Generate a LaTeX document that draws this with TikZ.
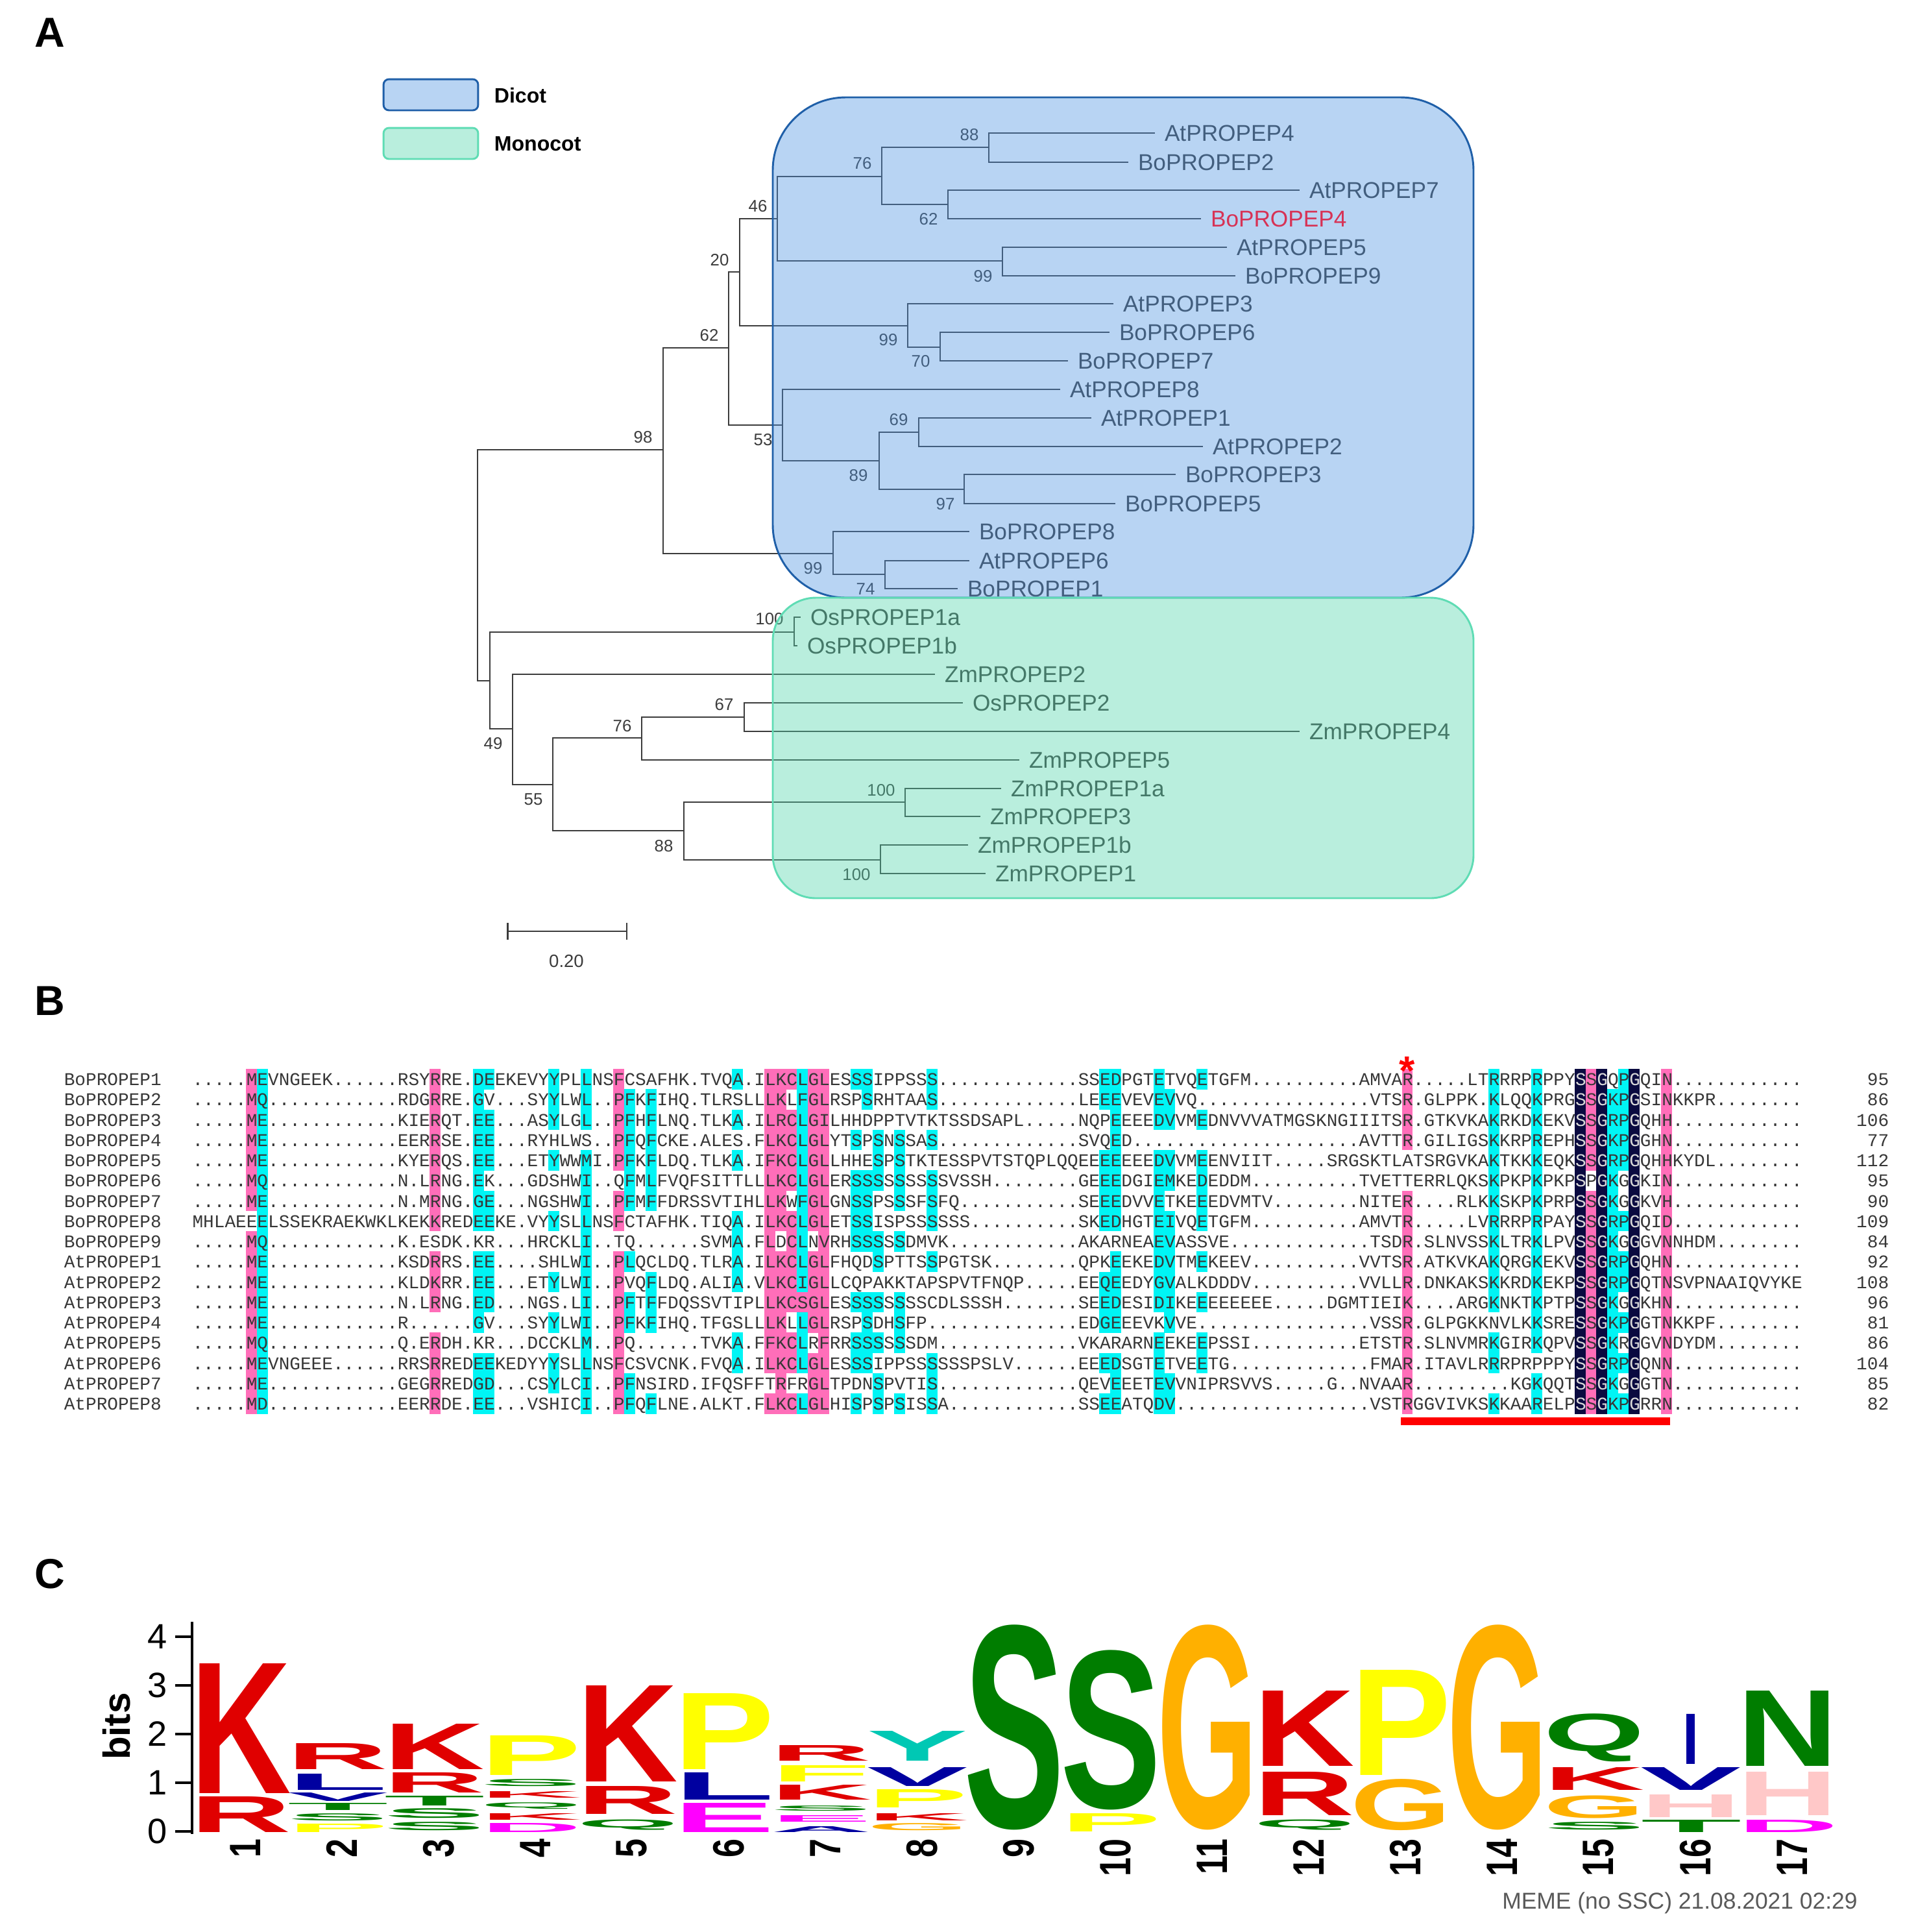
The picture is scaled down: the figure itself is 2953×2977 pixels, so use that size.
\documentclass[tikz,border=0pt]{standalone}
\usepackage{fontspec}
\usepackage{graphicx}
\setmainfont{Liberation Sans}
\setmonofont{Liberation Mono}
\definecolor{dicotfill}{RGB}{77,147,225}
\definecolor{dicotline}{RGB}{31,95,168}
\definecolor{monofill}{RGB}{80,212,170}
\definecolor{monoline}{RGB}{95,220,180}
\definecolor{treegray}{RGB}{60,60,60}
\definecolor{hlpink}{RGB}{255,110,185}
\definecolor{hlcyan}{RGB}{0,245,245}
\definecolor{hldark}{RGB}{10,10,64}
\definecolor{seqgray}{RGB}{55,55,55}
\definecolor{logored}{RGB}{224,0,0}
\definecolor{logonavy}{RGB}{0,0,160}
\definecolor{logogreen}{RGB}{0,125,0}
\definecolor{logoorange}{RGB}{255,176,0}
\definecolor{logoyellow}{RGB}{255,255,0}
\definecolor{logomagenta}{RGB}{255,0,255}
\definecolor{logoteal}{RGB}{0,200,180}
\definecolor{logopink}{RGB}{255,200,200}
\pgfdeclarelayer{tree}
\pgfdeclarelayer{boxes}
\pgfsetlayers{tree,boxes,main}
\newcommand{\dk}[1]{\textcolor{white!85!black}{#1}}
\newcommand{\alnrow}[4]{%
  \pgfmathsetmacro\rowy{1663+31.26*(#1-1)}
  \node[seqtext] (name#1) at (98,\rowy) {#2};
  \node[seqtext] (seq#1) at (295.75,\rowy) {#3};
  \node[seqtext,anchor=east] (num#1) at (2912,\rowy) {#4};
}
\begin{document}
\begin{tikzpicture}[
  x=0.24pt,y=-0.24pt,
  panelmark/.style={anchor=west,inner sep=0pt,font=\bfseries\fontsize{15.5}{16}\selectfont},
  treeline/.style={draw=treegray,line width=0.6pt},
  tiplabel/.style={anchor=west,inner xsep=3.4pt,inner ysep=0pt,text height=6pt,text depth=0pt,text=treegray,font=\fontsize{8.45}{10}\selectfont},
  bootlabel/.style={inner sep=0pt,text=treegray,font=\fontsize{6.2}{7}\selectfont},
  legendbox/.style={rounded corners=2pt,line width=0.7pt,minimum width=35pt,minimum height=11.5pt,inner sep=0pt},
  legendtext/.style={anchor=west,inner sep=0pt,font=\bfseries\fontsize{7.7}{9}\selectfont},
  seqtext/.style={anchor=west,inner sep=0pt,text height=4.6pt,text depth=0pt,text=seqgray,font=\ttfamily\fontsize{6.66}{8}\selectfont},
  logotick/.style={anchor=east,inner sep=0pt,font=\fontsize{13}{14}\selectfont},
  logonum/.style={rotate=90,anchor=east,inner sep=0pt,font=\bfseries\fontsize{12.5}{14}\selectfont},
  logoletter/.style={anchor=south west,inner sep=0pt}
]
\useasboundingbox (0,0) rectangle (2953,2977);
\node[panelmark] (panelA) at (53,50) {A};
\node[panelmark] (panelB) at (53,1542) {B};
\node[panelmark] (panelC) at (53,2425) {C};

\node[legendbox,draw=dicotline,fill=dicotfill!40!white] (legDicot) at (664,146) {};
\node[legendbox,draw=monoline,fill=monofill!40!white] (legMono) at (664,221) {};
\node[legendtext] (txtDicot) at (761,147) {Dicot};
\node[legendtext] (txtMono) at (761,222) {Monocot};

\node[tiplabel,text={rgb,255:red,215;green,50;blue,85}] (BoPROPEP4) at (1851,337) {BoPROPEP4};

\begin{pgfonlayer}{tree}
\foreach \tipname/\tipx/\tipy in {AtPROPEP4/1780/205,BoPROPEP2/1739/250,AtPROPEP7/2003/293,
  AtPROPEP5/1891/381,BoPROPEP9/1904/425,AtPROPEP3/1716/468,BoPROPEP6/1710/512,BoPROPEP7/1646/556,
  AtPROPEP8/1634/600,AtPROPEP1/1682/644,AtPROPEP2/1854/688,BoPROPEP3/1812/731,BoPROPEP5/1719/776,
  BoPROPEP8/1494/819,AtPROPEP6/1494/864,BoPROPEP1/1476/907,OsPROPEP1a/1234/951,OsPROPEP1b/1229/995,
  ZmPROPEP2/1441/1039,OsPROPEP2/1484/1083,ZmPROPEP4/2003/1127,ZmPROPEP5/1571/1171,ZmPROPEP1a/1543/1215,
  ZmPROPEP3/1511/1258,ZmPROPEP1b/1492/1302,ZmPROPEP1/1519/1346}
  \node[tiplabel] (\tipname) at (\tipx,\tipy) {\tipname};

\foreach \cladename/\cladex/\cladey in {root/736/871,n98/1022/693,n62/1123/536,n20/1140/419,n46/1198/337,
  n76/1359/272,n88/1524/227,n62b/1461/315,n99a/1545/402,n99b/1399/502,n70/1449/535,n53/1206/655,n89/1355/710,
  n69/1416/666,n97/1486/754,n99c/1284/853,n74/1364/885,n49/755/1049,n100a/1224/974,n49b/790/1123,n55/852/1209,
  n76b/989/1137,n67/1147/1105,n88b/1054/1280,n100b/1395/1236,n100c/1357/1325}
  \coordinate (\cladename) at (\cladex,\cladey);

\foreach \from/\to in {root/n98,root/n49,n98/n62,n98/n99c,n62/n20,n62/n53,n20/n46,n20/n99b,n46/n76,n46/n99a,
  n76/n88,n76/n62b,n88/AtPROPEP4,n88/BoPROPEP2,n62b/AtPROPEP7,n62b/BoPROPEP4,n99a/AtPROPEP5,n99a/BoPROPEP9,
  n99b/AtPROPEP3,n99b/n70,n70/BoPROPEP6,n70/BoPROPEP7,n53/AtPROPEP8,n53/n89,n89/n69,n89/n97,n69/AtPROPEP1,
  n69/AtPROPEP2,n97/BoPROPEP3,n97/BoPROPEP5,n99c/BoPROPEP8,n99c/n74,n74/AtPROPEP6,n74/BoPROPEP1,
  n49/n100a,n49/n49b,n100a/OsPROPEP1a,n100a/OsPROPEP1b,n49b/ZmPROPEP2,n49b/n55,n55/n76b,n55/n88b,n76b/n67,
  n76b/ZmPROPEP5,n67/OsPROPEP2,n67/ZmPROPEP4,n88b/n100b,n88b/n100c,n100b/ZmPROPEP1a,n100b/ZmPROPEP3,
  n100c/ZmPROPEP1b,n100c/ZmPROPEP1}
  \draw[treeline] (\from) |- (\to);

\foreach \bx/\by/\bval [count=\bi] in {1494/208/88,1329/252/76,1168/318/46,1431/338/62,1109/401/20,1515/426/99,
  1093/517/62,1369/524/99,1419/557/70,1385/647/69,991/674/98,1176/678/53,1323/733/89,1457/777/97,1253/876/99,
  1334/908/74,1186/954/100,1116/1086/67,959/1119/76,760/1146/49,822/1232/55,1358/1218/100,1023/1304/88,1320/1348/100}
  \node[bootlabel] (boot\bi) at (\bx,\by) {\bval};
\end{pgfonlayer}

\begin{pgfonlayer}{boxes}
\draw[dicotline,line width=0.7pt,fill=dicotfill,fill opacity=0.4,rounded corners=27pt] (1191,150) rectangle (2271,921);
\draw[monoline,line width=0.7pt,fill=monofill,fill opacity=0.4,rounded corners=16pt] (1191,921) rectangle (2271,1384);
\end{pgfonlayer}

\coordinate (scaleL) at (781,1435);
\coordinate (scaleR) at (967,1435);
\draw[treeline,|-|] (scaleL) -- (scaleR);
\node[bootlabel,font=\fontsize{6.6}{8}\selectfont] (scaleText) at (873,1481) {0.20};

\foreach \c/\rowlist in {5/{1,...,7,9,10,...,17},22/{1,...,8,10,11,12,14,15,16,17},39/{1,...,5,7,8,10,11,...,17},
  53/{1,...,15,17},54/{1,...,8,10,11,...,17},55/{1,3,4,5,6,8,9,10,11,12,14,15,17},56/{12},
  57/{1,...,8,10,11,12,13,15,16,17},58/{1,...,17},112/{1,2,3,4,7,8,...,17},129/{1,...,5,7,8,...,17},136/{1,...,17}}
  \foreach \r in \rowlist
    \fill[hlpink] ({295.75+16.65*\c},{1647+31.26*(\r-1)}) rectangle ++(16.9,31.5);
\foreach \c/\rowlist in {6/{1,...,17},26/{1,...,8,10,11,12,13,15,16,17},27/{1,3,4,5,7,8,10,11,12,15,16,17},
  33/{1,2,3,5,8,11,13,15,16},36/{1,2,3,5,6,...,17},40/{2,...,7,10,12,13,16,17},42/{2,...,7,11,12,13,17},
  50/{1,3,5,8,9,10,11,14,15},56/{1,...,11,13,14,15,17},61/{1,4,6,7,8,9,12,14,15,17},62/{1,2,6,7,8,9,12,13,14,15},
  63/{4,5,6,9,10,12,14,16,17},65/{4,5,6,7,9,12,13,14,17},68/{1,2,4,6,7,8,10,15,16,17},
  84/{1,2,5,6,7,8,11,12,13,15,17},85/{1,...,8,10,11,12,13,15,16,17},89/{1,2,3,5,6,7,8,9,10,11,12,14,15,16,17},
  90/{2,3,5,6,8,9,10,11,12,13,16,17},93/{1,3,5,6,7,8,10,12,14,15},120/{1,...,12,14,15,17},124/{1,...,14,16,17},
  131/{2,...,17},132/{1,2,3,4,5,8,10,11,13,15,17}}
  \foreach \r in \rowlist
    \fill[hlcyan] ({295.75+16.65*\c},{1647+31.26*(\r-1)}) rectangle ++(16.9,31.5);
\foreach \c in {128,130,133}
  \fill[hldark] ({295.75+16.65*\c},1647) rectangle ++(16.65,531.9);

\alnrow{1}{BoPROPEP1}{.....MEVNGEEK......RSYRRE.DEEKEVYYPLLNSFCSAFHK.TVQA.ILKCLGLESSSIPPSSS.............SSEDPGTETVQETGFM..........AMVAR.....LTRRRPRPPY\dk{S}S\dk{G}QP\dk{G}QIN............}{95}
\alnrow{2}{BoPROPEP2}{.....MQ............RDGRRE.GV...SYYLWL..PFKFIHQ.TLRSLLLKLFGLRSPSRHTAAS.............LEEEVEVEVVQ................VTSR.GLPPK.KLQQKPRG\dk{S}S\dk{G}KP\dk{G}SINKKPR........}{86}
\alnrow{3}{BoPROPEP3}{.....ME............KIERQT.EE...ASYLGL..PFHFLNQ.TLKA.ILRCLGILHHDPPTVTKTSSDSAPL.....NQPEEEEDVVMEDNVVVATMGSKNGIIITSR.GTKVKAKRKDKEKV\dk{S}S\dk{G}RP\dk{G}QHH............}{106}
\alnrow{4}{BoPROPEP4}{.....ME............EERRSE.EE...RYHLWS..PFQFCKE.ALES.FLKCLGLYTSPSNSSAS.............SVQED.....................AVTTR.GILIGSKKRPREPH\dk{S}S\dk{G}KP\dk{G}GHN............}{77}
\alnrow{5}{BoPROPEP5}{.....ME............KYERQS.EE...ETYWWMI.PFKFLDQ.TLKA.IFKCLGLLHHESPSTKTESSPVTSTQPLQQEEEEEEEDVVMEENVIIT.....SRGSKTLATSRGVKAKTKKKEQK\dk{S}S\dk{G}RP\dk{G}QHHKYDL........}{112}
\alnrow{6}{BoPROPEP6}{.....MQ............N.LRNG.EK...GDSHWI..QFMLFVQFSITTLLLKCLGLERSSSSSSSSSVSSH........GEEEDGIEMKEDEDDM..........TVETTERRLQKSKPKPKPKP\dk{S}P\dk{G}KG\dk{G}KIN............}{95}
\alnrow{7}{BoPROPEP7}{.....ME............N.MRNG.GE...NGSHWI..PFMFFDRSSVTIHLLKWFGLGNSSPSSSFSFQ...........SEEEDVVETKEEEDVMTV........NITER....RLKKSKPKPRP\dk{S}S\dk{G}KG\dk{G}KVH............}{90}
\alnrow{8}{BoPROPEP8}{MHLAEEELSSEKRAEKWKLKEKKREDEEKE.VYYSLLNSFCTAFHK.TIQA.ILKCLGLETSSISPSSSSSS..........SKEDHGTEIVQETGFM..........AMVTR.....LVRRRPRPAY\dk{S}S\dk{G}RP\dk{G}QID............}{109}
\alnrow{9}{BoPROPEP9}{.....MQ............K.ESDK.KR...HRCKLI..TQ......SVMA.FLDCLNVRHSSSSSDMVK............AKARNEAEVASSVE.............TSDR.SLNVSSKLTRKLPV\dk{S}S\dk{G}KG\dk{G}GVNNHDM........}{84}
\alnrow{10}{AtPROPEP1}{.....ME............KSDRRS.EE....SHLWI..PLQCLDQ.TLRA.ILKCLGLFHQDSPTTSSPGTSK........QPKEEKEDVTMEKEEV..........VVTSR.ATKVKAKQRGKEKV\dk{S}S\dk{G}RP\dk{G}QHN............}{92}
\alnrow{11}{AtPROPEP2}{.....ME............KLDKRR.EE...ETYLWI..PVQFLDQ.ALIA.VLKCIGLLCQPAKKTAPSPVTFNQP.....EEQEEDYGVALKDDDV..........VVLLR.DNKAKSKKRDKEKP\dk{S}S\dk{G}RP\dk{G}QTNSVPNAAIQVYKE}{108}
\alnrow{12}{AtPROPEP3}{.....ME............N.LRNG.ED...NGS.LI..PFTFFDQSSVTIPLLKCSGLESSSSSSSSCDLSSSH.......SEEDESIDIKEEEEEEEE.....DGMTIEIK....ARGKNKTKPTP\dk{S}S\dk{G}KG\dk{G}KHN............}{96}
\alnrow{13}{AtPROPEP4}{.....ME............R......GV...SYYLWI..PFKFIHQ.TFGSLLLKLLGLRSPSDHSFP..............EDGEEEVKVVE................VSSR.GLPGKKNVLKKSRE\dk{S}S\dk{G}KP\dk{G}GTNKKPF........}{81}
\alnrow{14}{AtPROPEP5}{.....MQ............Q.ERDH.KR...DCCKLM..PQ......TVKA.FFKCLRFRRSSSSSSDM.............VKARARNEEKEEPSSI..........ETSTR.SLNVMRKGIRKQPV\dk{S}S\dk{G}KR\dk{G}GVNDYDM........}{86}
\alnrow{15}{AtPROPEP6}{.....MEVNGEEE......RRSRREDEEKEDYYYSLLNSFCSVCNK.FVQA.ILKCLGLESSSIPPSSSSSSPSLV......EEEDSGTETVEETG.............FMAR.ITAVLRRRPRPPPY\dk{S}S\dk{G}RP\dk{G}QNN............}{104}
\alnrow{16}{AtPROPEP7}{.....ME............GEGRREDGD...CSYLCI..PFNSIRD.IFQSFFTRFRGLTPDNSPVTIS.............QEVEEETEVVNIPRSVVS.....G..NVAAR.........KGKQQT\dk{S}S\dk{G}KG\dk{G}GTN............}{85}
\alnrow{17}{AtPROPEP8}{.....MD............EERRDE.EE...VSHICI..PFQFLNE.ALKT.FLKCLGLHISPSPSISSA............SSEEATQDV..................VSTRGGVIVKSKKAARELP\dk{S}S\dk{G}KP\dk{G}RRN............}{82}

\node[inner sep=0pt,text=red,font=\bfseries\fontsize{15}{16}\selectfont] (starmark) at (2169,1650) {*};
\fill[red] (2159,2184) rectangle (2574,2196);

\draw[black,line width=0.8pt] (296,2499) -- (296,2826);
\foreach \tickval in {0,...,4} {
  \draw[black,line width=0.8pt] (270,{2822-75*\tickval}) -- (296,{2822-75*\tickval});
  \node[logotick] (tick\tickval) at (258,{2822-75*\tickval}) {\tickval};
}
\node[rotate=90,inner sep=0pt,font=\bfseries\fontsize{14}{15}\selectfont] (bitsLabel) at (180,2660) {bits};
\foreach \n in {1,...,17}
  \node[logonum] (pos\n) at ({1570+149*(\n-9)},2833) {\scalebox{1}[1.3]{\n}};

\foreach \col/\gtop/\gbot/\gchar/\gcolor in {
  1/2564/2764/K/logored,1/2769/2824/R/logored,
  2/2687/2727/R/logored,2/2734/2759/L/logonavy,2/2763/2776/V/logonavy,2/2779/2790/T/logogreen,2/2795/2806/S/logogreen,2/2811/2824/P/logoyellow,
  3/2657/2727/K/logored,3/2732/2763/R/logored,3/2768/2783/T/logogreen,3/2788/2803/S/logogreen,3/2808/2821/S/logogreen,
  4/2675/2736/P/logoyellow,4/2742/2753/S/logogreen,4/2761/2771/K/logored,4/2778/2788/Q/logogreen,4/2795/2805/K/logored,4/2810/2824/D/logomagenta,
  5/2598/2746/K/logored,5/2753/2796/R/logored,5/2805/2821/Q/logogreen,
  6/2610/2727/P/logoyellow,6/2732/2774/L/logonavy,6/2779/2824/E/logomagenta,
  7/2690/2714/R/logored,7/2721/2746/F/logoyellow,7/2751/2774/K/logored,7/2783/2791/S/logogreen,7/2798/2808/E/logomagenta,7/2815/2824/A/logonavy,
  8/2668/2714/Y/logoteal,8/2724/2753/V/logonavy,8/2758/2786/P/logoyellow,8/2795/2806/K/logored,8/2810/2821/G/logoorange,
  9/2505/2821/S/logogreen,
  10/2544/2790/S/logogreen,10/2795/2823/P/logoyellow,
  11/2505/2821/G/logoorange,
  12/2606/2722/K/logored,12/2731/2798/R/logored,12/2805/2821/Q/logogreen,
  13/2574/2736/P/logoyellow,13/2742/2821/G/logoorange,
  14/2505/2821/G/logoorange,
  15/2642/2716/Q/logogreen,15/2724/2759/K/logored,15/2768/2803/G/logoorange,15/2808/2820/S/logogreen,
  16/2724/2759/V/logonavy,16/2766/2801/H/logopink,16/2805/2824/T/logogreen,
  17/2606/2722/N/logogreen,17/2731/2798/H/logopink,17/2805/2824/D/logomagenta} {
  \pgfmathsetmacro\gheight{(\gbot-\gtop)*0.24}
  \node[logoletter] (glyph\col\gchar\gtop) at ({293+149*(\col-1)},\gbot) {\resizebox*{37.3pt}{\gheight pt}{\color{\gcolor}\bfseries\gchar}};
}
\node[logoletter] (glyph16I) at (2593,2719) {\resizebox*{6pt}{18.5pt}{\color{logonavy}\bfseries I}};

\node[inner sep=0pt,text=black!65,font=\fontsize{8.5}{10}\selectfont] (memeNote) at (2589,2932) {MEME (no SSC) 21.08.2021 02:29};
\end{tikzpicture}
\end{document}
